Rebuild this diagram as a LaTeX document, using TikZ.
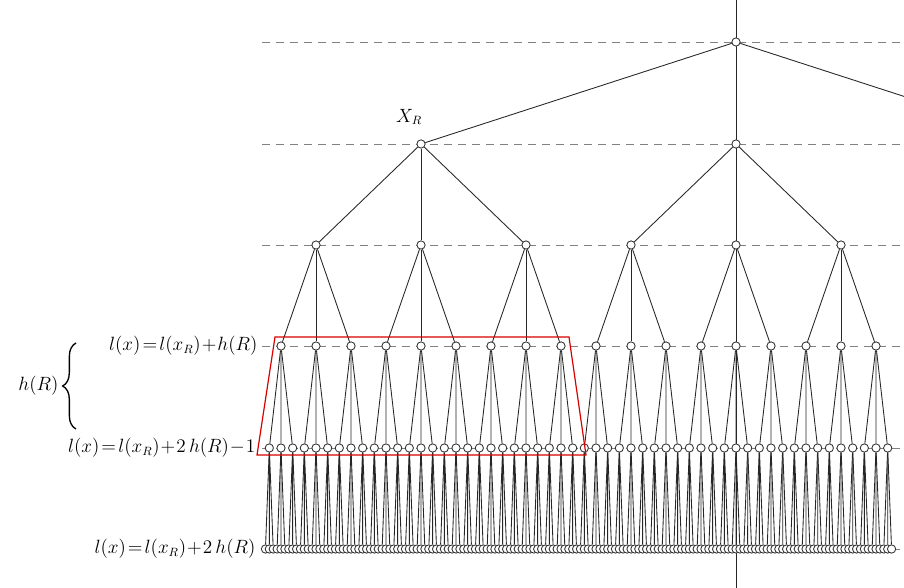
\documentclass[tikz,border=0pt]{standalone}
\usepackage{amsmath}
\usetikzlibrary{decorations.pathreplacing}

\begin{document}
\begin{tikzpicture}[x=0.75pt,y=-0.75pt,
  vx/.style={circle,draw=black!80,fill=white,line width=0.65pt,inner sep=0pt,minimum size=6.2pt},
  ed/.style={black!85,line width=0.65pt},
  lvl/.style={gray,line width=0.65pt,dash pattern=on 6pt off 4.5pt},
  lab/.style={anchor=east,font=\fontsize{13.5}{16}\selectfont,inner sep=1pt}]
  \useasboundingbox (0,0) rectangle (904,588);
  \clip (0,0) rectangle (904,588);
  % level lines and axis
  \foreach \y in {42,144,245,346,448,549}
    \draw[lvl] (262,\y) -- (904,\y);
  \draw[ed] (736,0) -- (736,588);
  % vertices
  \node[vx] (r) at (736,42) {};
  \foreach \i in {0,1}
    \node[vx] (a\i) at (421+315*\i,144) {};
  \coordinate (a2) at (1051,144);
  \foreach \i in {0,...,5}
    \node[vx] (b\i) at (316+105*\i,245) {};
  \foreach \i in {0,...,17}
    \node[vx] (c\i) at (281+35*\i,346) {};
  \foreach \i in {0,...,53}
    \node[vx] (d\i) at (269.33+11.667*\i,448) {};
  \foreach \i in {0,...,161}
    \node[vx] (e\i) at (265.44+3.889*\i,549) {};
  % edges
  \foreach \i in {0,1,2}
    \draw[ed] (r) -- (a\i);
  \foreach \i in {0,...,5}{
    \pgfmathtruncatemacro\p{floor(\i/3)}
    \draw[ed] (a\p) -- (b\i);}
  \foreach \i in {0,...,17}{
    \pgfmathtruncatemacro\p{floor(\i/3)}
    \draw[ed] (b\p) -- (c\i);}
  \foreach \i in {0,...,53}{
    \pgfmathtruncatemacro\p{floor(\i/3)}
    \draw[ed] (c\p) -- (d\i);}
  \foreach \i in {0,...,161}{
    \pgfmathtruncatemacro\p{floor(\i/3)}
    \draw[ed] (d\p) -- (e\i);}
  % subtree of X_R
  \draw[red!85!black,line width=0.9pt] (275,337) -- (569,337) -- (586,455) -- (257,455) -- cycle;
  \node[font=\fontsize{13.5}{16}\selectfont] (xr) at (409,117) {$X_R$};
  % level labels
  \node[lab] (ltop) at (259,346) {$l(x)\!=\!l(x_R)\!+\!h(R)$};
  \node[lab] (lmid) at (257,448) {$l(x)\!=\!l(x_R)\!+\!2\,h(R)\!-\!1$};
  \node[lab] (lbot) at (257,549) {$l(x)\!=\!l(x_R)\!+\!2\,h(R)$};
  \draw[line width=1pt,decorate,decoration={brace,amplitude=10pt}] (76,429) -- (76,343);
  \node[lab] (hr) at (60,386) {$h(R)$};
\end{tikzpicture}
\end{document}
